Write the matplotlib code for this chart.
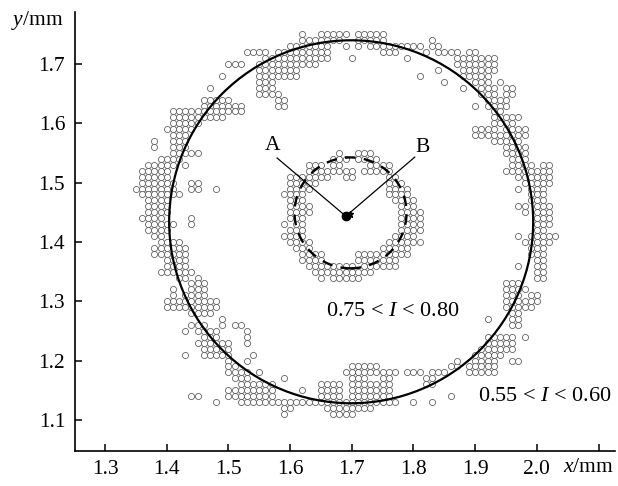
import matplotlib
matplotlib.use("Agg")
import matplotlib.pyplot as plt
from matplotlib.patches import Ellipse

plt.rcParams['font.family'] = ['Liberation Serif', 'DejaVu Serif']
plt.rcParams['mathtext.fontset'] = 'custom'
plt.rcParams['mathtext.rm'] = 'Liberation Serif'
plt.rcParams['mathtext.it'] = 'Liberation Serif:italic'

# grid points, in hundredths of a mm: (y, x_start, x_end) runs
outer_top = [
    (175, 162, 162), (175, 165, 169), (175, 171, 175),
    (174, 162, 168), (174, 171, 175), (174, 183, 183),
    (173, 160, 166), (173, 169, 169), (173, 171, 171), (173, 173, 181), (173, 183, 184),
    (172, 153, 156), (172, 158, 166), (172, 175, 177), (172, 182, 182), (172, 184, 187), (172, 189, 190),
    (171, 156, 166), (171, 170, 170), (171, 179, 179), (171, 187, 193),
    (170, 150, 152), (170, 155, 164), (170, 187, 193),
    (169, 155, 161), (169, 184, 184), (169, 188, 193),
    (168, 149, 149), (168, 155, 161), (168, 181, 181), (168, 188, 192),
    (167, 155, 157), (167, 185, 185), (167, 190, 192), (167, 194, 194),
    (166, 147, 147), (166, 155, 157), (166, 188, 188), (166, 191, 193), (166, 195, 196),
    (165, 155, 158), (165, 191, 193), (165, 195, 196),
    (164, 146, 150), (164, 158, 159), (164, 192, 195),
    (163, 146, 152), (163, 158, 159), (163, 190, 190), (163, 192, 195),
]
outer_left = [
    (162, 141, 152), (161, 141, 149), (160, 141, 145), (159, 140, 144),
    (158, 141, 143), (157, 138, 138), (157, 141, 143), (156, 138, 138), (156, 141, 143),
    (155, 141, 145), (154, 139, 142), (153, 137, 141), (153, 143, 143),
    (152, 136, 140), (151, 136, 140), (150, 136, 141), (150, 144, 145),
    (149, 135, 141), (149, 144, 145), (149, 148, 148), (148, 136, 142),
    (147, 137, 140), (146, 137, 140), (145, 137, 140), (144, 136, 139), (144, 144, 144),
    (143, 137, 141), (143, 144, 144), (142, 137, 140), (141, 138, 139),
    (140, 139, 142), (139, 138, 143), (138, 138, 143), (137, 140, 143),
    (136, 140, 143), (135, 139, 144), (134, 142, 143), (134, 145, 145),
]
outer_lowleft = [
    (133, 144, 146), (132, 141, 141), (132, 144, 146), (131, 141, 141), (131, 143, 146),
    (130, 140, 148), (129, 140, 148), (128, 144, 147), (127, 149, 149),
    (126, 144, 146), (126, 149, 149), (126, 151, 152), (125, 143, 143), (125, 145, 148), (125, 153, 153),
    (124, 146, 148), (124, 153, 153), (123, 145, 150), (123, 153, 153), (122, 146, 150),
    (121, 143, 143), (121, 146, 150), (121, 154, 154), (120, 150, 150), (120, 153, 153),
    (119, 150, 151), (118, 150, 153), (118, 155, 155), (117, 151, 153), (117, 159, 159),
    (116, 152, 157), (115, 150, 157), (115, 162, 162), (114, 144, 145), (114, 150, 157),
    (113, 148, 148), (113, 152, 157), (112, 159, 160), (111, 159, 159),
]
outer_bottom = [
    (119, 170, 174), (119, 186, 187),
    (118, 169, 177), (118, 179, 181), (118, 183, 185),
    (117, 170, 172), (117, 175, 176), (117, 182, 183),
    (116, 165, 168), (116, 170, 176), (116, 182, 183),
    (115, 165, 168), (115, 170, 176),
    (114, 165, 168), (114, 170, 176), (114, 186, 186),
    (113, 158, 177), (113, 180, 180), (113, 183, 183),
    (112, 166, 173), (111, 167, 170),
]
outer_right = [
    (162, 193, 194), (161, 193, 197), (160, 193, 196), (159, 190, 193), (159, 195, 198),
    (158, 190, 198), (157, 193, 197), (156, 195, 198), (155, 195, 198), (154, 196, 198),
    (153, 196, 199), (153, 201, 202), (152, 195, 202), (151, 197, 202), (150, 198, 202),
    (149, 197, 197), (149, 199, 201), (148, 199, 201), (147, 199, 201),
    (146, 197, 198), (146, 200, 202), (145, 198, 198), (145, 200, 202),
    (144, 200, 202), (143, 200, 202), (142, 200, 201), (141, 197, 197), (141, 199, 203),
    (140, 198, 202), (139, 199, 201), (138, 199, 201), (137, 200, 201),
    (136, 197, 197), (136, 200, 201), (135, 200, 201), (134, 200, 201),
    (133, 195, 197), (132, 195, 198), (131, 195, 197), (131, 199, 200), (130, 195, 200),
    (129, 195, 199), (128, 196, 197), (127, 192, 192), (127, 196, 197), (126, 196, 197),
    (124, 192, 196), (124, 198, 198), (123, 192, 196), (122, 191, 196), (121, 190, 194),
    (120, 187, 187), (120, 190, 193), (120, 196, 197), (119, 189, 193), (118, 189, 193),
]
inner_ring = [
    (155, 168, 168), (155, 171, 173),
    (154, 167, 169), (154, 171, 174),
    (153, 163, 165), (153, 167, 168), (153, 173, 176),
    (152, 163, 166), (152, 167, 170), (152, 172, 176),
    (151, 160, 166), (151, 169, 170), (151, 176, 177),
    (150, 160, 164), (150, 176, 178), (149, 160, 163), (149, 176, 179),
    (148, 159, 162), (148, 176, 179), (147, 160, 162), (147, 177, 180),
    (146, 160, 163), (146, 178, 180), (145, 160, 163), (145, 178, 181),
    (144, 160, 162), (144, 178, 181), (143, 159, 159), (143, 161, 162), (143, 178, 181),
    (142, 160, 162), (142, 178, 181), (141, 159, 162), (141, 177, 180),
    (140, 160, 163), (140, 176, 181), (139, 161, 163), (139, 175, 179),
    (138, 162, 165), (138, 171, 179), (137, 162, 165), (137, 171, 177),
    (136, 163, 170), (136, 172, 177), (135, 164, 170), (135, 171, 173),
    (134, 165, 165), (134, 167, 170), (134, 171, 171),
]

x_ticks = [1.3, 1.4, 1.5, 1.6, 1.7, 1.8, 1.9, 2.0, 2.1]
x_labels = ['1.3', '1.4', '1.5', '1.6', '1.7', '1.8', '1.9', '2.0', '']
y_ticks = [1.1, 1.2, 1.3, 1.4, 1.5, 1.6, 1.7]
y_labels = ['1.1', '1.2', '1.3', '1.4', '1.5', '1.6', '1.7']


def expand(rows):
    xs, ys = [], []
    for y, x0, x1 in rows:
        for x in range(x0, x1 + 1):
            xs.append(x / 100.0)
            ys.append(y / 100.0)
    return xs, ys


fig = plt.figure(figsize=(6.18, 4.86), dpi=100)
ax = fig.add_axes([75 / 618, 1 - 450.7 / 486, (615 - 75) / 618, (450.7 - 12) / 486])
ax.set_xlim(1.2514, 2.1266)
ax.set_ylim(1.048, 1.7877)

for rows in (outer_top, outer_left, outer_lowleft, outer_bottom, outer_right, inner_ring):
    xs, ys = expand(rows)
    ax.plot(xs, ys, 'o', mfc='white', mec='#555555', ms=4.4, mew=0.55, zorder=2)

ax.add_patch(Ellipse((1.699, 1.434), 0.590, 0.612, fill=False, ec='black', lw=1.6, zorder=3))
ax.add_patch(Ellipse((1.698, 1.449), 0.1815, 0.187, fill=False, ec='black', lw=1.7,
                     linestyle=(0, (4.5, 3.5)), zorder=3))

ax.plot([1.579, 1.690], [1.5415, 1.4437], color='black', lw=0.9, zorder=4)
ax.plot([1.802, 1.691], [1.543, 1.4440], color='black', lw=0.9, zorder=4)
ax.plot([1.690], [1.4437], 'o', color='black', ms=6, zorder=5)
ax.plot([1.697], [1.4475], '*', color='black', ms=5, zorder=5)

ax.text(1.571, 1.563, 'A', fontsize=15.5, ha='center', va='center')
ax.text(1.815, 1.560, 'B', fontsize=15.5, ha='center', va='center')
ax.text(1.766, 1.282, r'0.75 < $I$ < 0.80', fontsize=16, ha='center', va='center')
ax.text(2.013, 1.140, r'0.55 < $I$ < 0.60', fontsize=16, ha='center', va='center')

for s in ('top', 'right'):
    ax.spines[s].set_visible(False)
for s in ('left', 'bottom'):
    ax.spines[s].set_linewidth(1.2)

ax.set_xticks(x_ticks)
ax.set_xticklabels(x_labels)
ax.set_yticks(y_ticks)
ax.set_yticklabels(y_labels)
ax.tick_params(direction='in', length=5, width=1.1, labelsize=15.5)
ax.tick_params(axis='x', pad=7)
ax.tick_params(axis='y', pad=7)

fig.text(588 / 618, 1 - 468 / 486, r'$x$/mm', fontsize=15.5, ha='center', va='center')
fig.text(37 / 618, 1 - 20 / 486, r'$y$/mm', fontsize=15.5, ha='center', va='center')

fig.savefig('out.png', dpi=100)
